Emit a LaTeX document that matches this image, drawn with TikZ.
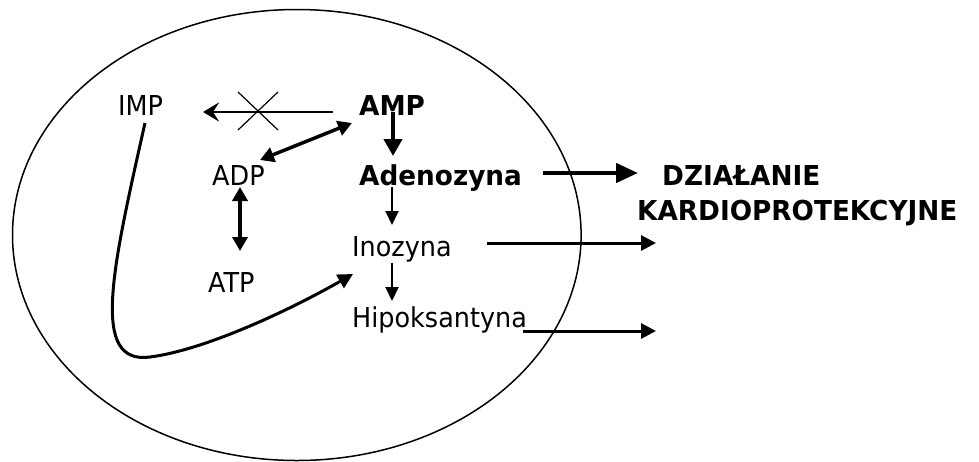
\documentclass[tikz,border=0pt]{standalone}
\usepackage{fontspec}
\setmainfont{DejaVu Sans}[FakeStretch=0.93,BoldFeatures={FakeStretch=0.96}]
\usetikzlibrary{arrows.meta,calc}
\begin{document}
\begin{tikzpicture}[x=1pt,y=-1pt,
  lbl/.style={anchor=base west,inner sep=0pt,font=\fontsize{27.4}{32}\selectfont},
  blbl/.style={lbl,font=\fontsize{27.4}{32}\selectfont\bfseries},
  thinarr/.style={line width=2pt,-{Triangle[length=14pt,width=13pt]}},
  thickarr/.style={line width=4.5pt,-{Triangle[length=17pt,width=18pt]}},
  dblarr/.style={line width=3.5pt,{Triangle[length=14pt,width=15pt]}-{Triangle[length=14pt,width=15pt]}},
  outarr/.style={line width=3pt,-{Triangle[length=15pt,width=15pt]}}]
\useasboundingbox (0,0) rectangle (979,461);
% cell
\draw[line width=1.5pt] (296.8,235) ellipse [x radius=284.3, y radius=225.5];
% labels
\node[lbl]  (IMP)  at (118,115) {IMP};
\node[blbl] (AMP)  at (359,115) {AMP};
\node[lbl]  (ADP)  at (212,185) {ADP};
\node[blbl] (ADEN) at (359,185) {Adenozyna};
\node[lbl]  (INO)  at (352,256) {Inozyna};
\node[lbl]  (ATP)  at (208,292) {ATP};
\node[lbl]  (HIP)  at (352,327) {Hipoksantyna};
\node[blbl] (DZ)   at (662,185) {DZIAŁANIE};
\node[blbl] (KARD) at (637,220) {KARDIOPROTEKCYJNE};
% connector end points
\coordinate (impA) at (333,112);
\coordinate (impB) at (203,112);
\coordinate (xc)   at (258,111);
\coordinate (adA)  at (352,123);
\coordinate (adB)  at (260,160);
\coordinate (amA)  at (393,112);
\coordinate (amB)  at (393,156);
\coordinate (atA)  at (240,187);
\coordinate (atB)  at (240,251);
\coordinate (aiA)  at (392,187);
\coordinate (aiB)  at (392,225);
\coordinate (ihA)  at (392,263);
\coordinate (ihB)  at (392,301);
\coordinate (cvA)  at (145,123);
\coordinate (cvB)  at (353,274);
\coordinate (dzA)  at (543,173);
\coordinate (dzB)  at (638,173);
\coordinate (ioA)  at (487,243);
\coordinate (ioB)  at (656,243);
\coordinate (hoA)  at (523,331);
\coordinate (hoB)  at (656,331);
% AMP -> IMP (blocked)
\draw[line width=2.4pt,-{Stealth[length=16pt,width=19pt,inset=6pt]}] (impA) -- (impB);
\draw[line width=1.2pt] ($(xc)+(-20,-19)$) -- ($(xc)+(20,19)$);
\draw[line width=1.2pt] ($(xc)+(-20,19)$) -- ($(xc)+(20,-19)$);
% AMP <-> ADP, ADP <-> ATP
\draw[dblarr] (adB) -- (adA);
\draw[dblarr] (atA) -- (atB);
% AMP -> Adenozyna
\draw[thickarr] (amA) -- (amB);
% Adenozyna -> Inozyna -> Hipoksantyna
\draw[thinarr] (aiA) -- (aiB);
\draw[thinarr] (ihA) -- (ihB);
% IMP -> Inozyna curve
\draw[line width=3pt,-{Triangle[length=15pt,width=15pt]}]
  (cvA) .. controls (112,270) and (90,365) .. (150,357)
        .. controls (205,350) and (290,310) .. (cvB);
% outgoing arrows
\draw[line width=4.5pt,-{Triangle[length=22pt,width=19pt]}] (dzA) -- (dzB);
\draw[outarr] (ioA) -- (ioB);
\draw[outarr] (hoA) -- (hoB);
\end{tikzpicture}
\end{document}
